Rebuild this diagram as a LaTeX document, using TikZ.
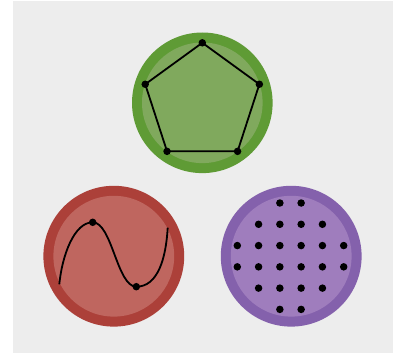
\documentclass[tikz,border=0pt]{standalone}
\usetikzlibrary{calc}
\definecolor{bggray}{HTML}{EDEDED}
\definecolor{gdark}{HTML}{5F9B35}
\definecolor{glight}{HTML}{80A95D}
\definecolor{rdark}{HTML}{AC4039}
\definecolor{rlight}{HTML}{BF665F}
\definecolor{pdark}{HTML}{8461AC}
\definecolor{plight}{HTML}{9F7DBD}
\tikzset{
  dotmark/.style={circle,fill=black,inner sep=0pt,minimum size=7.5pt},
  edgeline/.style={draw=black,line width=1.8pt},
}
\begin{document}
\begin{tikzpicture}[x=1pt,y=-1pt]
\useasboundingbox (0,0) rectangle (393,353);
\fill[bggray] (13,1) rectangle (393,353);
% green disc
\fill[gdark] (202.3,102.8) circle (70.3);
\fill[glight] (202.3,102.8) circle (60.3);
% red disc
\fill[rdark] (113.8,256.2) circle (70.4);
\fill[rlight] (113.8,256.2) circle (60.4);
% purple disc
\fill[pdark] (291.2,256.2) circle (70.4);
\fill[plight] (291.2,256.2) circle (60.4);
% pentagon
\foreach \i/\a in {1/-90,2/-162,3/-234,4/-306,5/-18}{
  \node[dotmark] (p\i) at ($(202.3,102.8)+(\a:60)$) {};
}
\draw[edgeline] (p1.center) -- (p2.center) -- (p3.center) -- (p4.center) -- (p5.center) -- cycle;
% curve
\coordinate (cs) at (59.3,284.3);
\coordinate (ce) at (167.7,227.7);
\node[dotmark] (cmax) at (92.7,222.3) {};
\node[dotmark] (cmin) at (136.3,286.7) {};
\draw[edgeline] (cs) .. controls (62,256) and (74,222.3) .. (cmax.center)
  .. controls (112,222.3) and (117,286.7) .. (cmin.center)
  .. controls (158,286.7) and (166,258) .. (ce);
% dot grid
\foreach \r/\cols in {0/{3,4},1/{2,3,4,5},2/{1,2,3,4,5,6},3/{1,2,3,4,5,6},4/{2,3,4,5},5/{3,4}}{
  \foreach \c in \cols {
    \node[dotmark] (g\r\c) at ({237.3+21.28*(\c-1)},{203+21.28*\r}) {};
  }
}
\end{tikzpicture}
\end{document}
